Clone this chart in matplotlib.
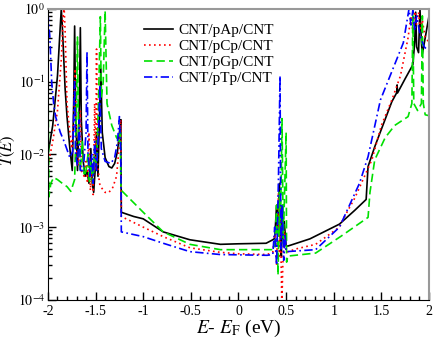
import numpy as np
import matplotlib
matplotlib.use("Agg")
from matplotlib import pyplot as plt
from matplotlib.ticker import MultipleLocator, LogLocator, NullFormatter, FixedLocator

plt.rcParams['font.family'] = ['Liberation Serif', 'DejaVu Serif']
plt.rcParams['mathtext.fontset'] = 'stix'

# values: (E - EF in eV, T(E))
pAp_E = [-2.00, -1.95, -1.90, -1.87, -1.86, -1.85, -1.82, -1.80, -1.77, -1.745, -1.73, -1.72, -1.71,
         -1.69, -1.67, -1.66, -1.65, -1.63, -1.61, -1.59, -1.57, -1.55, -1.535, -1.52, -1.505, -1.49,
         -1.475, -1.46, -1.445, -1.43, -1.40, -1.36, -1.33, -1.30, -1.27, -1.25, -1.235, -1.23,
         -1.10, -1.00, -0.79, -0.51, -0.19, 0.00, 0.29, 0.36, 0.38, 0.40, 0.41, 0.43, 0.44, 0.45,
         0.46, 0.47, 0.48, 0.50, 0.52, 0.75, 1.06, 1.22, 1.34, 1.36, 1.43, 1.61, 1.66, 1.665, 1.67,
         1.75, 1.83, 1.85, 1.86, 1.87, 1.89, 1.905, 1.92, 1.93, 1.96, 2.00]
pAp_T = [0.010, 0.025, 0.12, 0.6, 1.0, 0.6, 0.08, 0.033, 0.012, 0.006, 0.05, 0.58, 0.04,
         0.006, 0.05, 0.55, 0.03, 0.008, 0.005, 0.006, 0.004, 0.012, 0.004, 0.003, 0.006, 0.02,
         0.005, 0.03, 0.15, 0.02, 0.009, 0.0068, 0.0065, 0.0075, 0.011, 0.02, 0.03, 0.0016,
         0.0014, 0.0013, 0.00086, 0.00067, 0.00058, 0.00059, 0.0006, 0.00067, 0.0007, 0.002, 0.0008,
         0.004, 0.0006, 0.0004, 0.002, 0.0007, 0.0012, 0.00055, 0.00055, 0.00069, 0.0011, 0.0017,
         0.0024, 0.0068, 0.0127, 0.053, 0.07, 0.09, 0.07, 0.11, 0.17, 0.35, 0.9, 0.3, 0.25, 1.0,
         0.35, 0.24, 0.4, 0.8]

pCp_E = [-2.00, -1.95, -1.90, -1.86, -1.84, -1.83, -1.82, -1.80, -1.77, -1.75, -1.73, -1.715, -1.70,
         -1.68, -1.66, -1.65, -1.62, -1.60, -1.585, -1.57, -1.555, -1.54, -1.525, -1.51, -1.50, -1.49,
         -1.48, -1.46, -1.44, -1.40, -1.36, -1.32, -1.28, -1.26, -1.24, -1.235, -1.23,
         -1.00, -0.79, -0.51, -0.19, 0.00, 0.30, 0.36, 0.38, 0.40, 0.42, 0.43, 0.44, 0.455, 0.465,
         0.48, 0.50, 0.60, 0.81, 1.06, 1.10, 1.22, 1.27, 1.40, 1.50, 1.61, 1.70, 1.78, 1.81, 1.83,
         1.85, 1.87, 1.89, 1.91, 1.93, 1.96, 2.00]
pCp_T = [0.007, 0.015, 0.04, 0.2, 0.8, 1.0, 0.5, 0.05, 0.02, 0.012, 0.03, 0.15, 0.012,
         0.007, 0.04, 0.006, 0.005, 0.008, 0.004, 0.02, 0.0032, 0.006, 0.0028, 0.05, 0.006, 0.28,
         0.008, 0.004, 0.0035, 0.003, 0.003, 0.0035, 0.005, 0.01, 0.02, 0.03, 0.0014,
         0.001, 0.00074, 0.00052, 0.00045, 0.00043, 0.00042, 0.00045, 0.0008, 0.0003, 0.003, 0.0004,
         0.0015, 0.00008, 0.0003, 0.0009, 0.00045, 0.0005, 0.00058, 0.001, 0.0013, 0.0025, 0.0035,
         0.0084, 0.025, 0.056, 0.12, 0.4, 0.8, 0.5, 1.0, 0.6, 0.9, 0.5, 0.7, 0.4, 0.35]

pGp_E = [-2.00, -1.995, -1.99, -1.97, -1.94, -1.90, -1.85, -1.80, -1.76, -1.72, -1.70, -1.69, -1.68,
         -1.66, -1.64, -1.62, -1.60, -1.58, -1.565, -1.55, -1.53, -1.51, -1.49, -1.47, -1.45, -1.44,
         -1.42, -1.40, -1.38, -1.33, -1.28, -1.25, -1.24, -1.235, -1.23, -1.00, -0.79, -0.51, -0.19,
         0.00, 0.35, 0.38, 0.40, 0.415, 0.43, 0.44, 0.457, 0.47, 0.485, 0.50, 0.505, 0.52, 0.81,
         1.07, 1.36, 1.38, 1.43, 1.54, 1.64, 1.78, 1.82, 1.83, 1.84, 1.88, 1.92, 1.93, 1.94, 1.96, 2.00]
pGp_T = [0.1, 0.02, 0.0026, 0.004, 0.0048, 0.0045, 0.004, 0.0036, 0.0031, 0.0045, 0.05, 0.41, 0.02,
         0.006, 0.015, 0.005, 0.006, 0.01, 0.004, 0.008, 0.004, 0.012, 0.007, 0.05, 0.78, 0.06,
         0.1, 0.94, 0.05, 0.025, 0.017, 0.015, 0.02, 0.004, 0.0032, 0.0016, 0.00086, 0.00058, 0.00049,
         0.00049, 0.00049, 0.0005, 0.002, 0.00022, 0.003, 0.0008, 0.031, 0.0006, 0.0035, 0.02, 0.00033,
         0.0004, 0.00044, 0.00074, 0.00136, 0.003, 0.0084, 0.017, 0.025, 0.033, 0.05, 0.9, 0.05, 0.04,
         0.05, 0.8, 0.05, 0.035, 0.034]

pTp_E = [-2.00, -1.98, -1.96, -1.94, -1.92, -1.87, -1.83, -1.77, -1.74, -1.72, -1.71, -1.69, -1.67,
         -1.66, -1.63, -1.60, -1.59, -1.58, -1.56, -1.54, -1.525, -1.51, -1.49, -1.47, -1.455, -1.44,
         -1.40, -1.34, -1.30, -1.27, -1.25, -1.235, -1.23, -1.00, -0.79, -0.51, -0.19, 0.30, 0.36,
         0.38, 0.40, 0.42, 0.436, 0.445, 0.46, 0.475, 0.49, 0.50, 0.81, 1.06, 1.27, 1.36, 1.49, 1.73,
         1.79, 1.81, 1.83, 1.85, 1.87, 1.91, 1.95, 2.00]
pTp_T = [0.88, 0.4, 0.095, 0.05, 0.033, 0.02, 0.015, 0.009, 0.011, 0.1, 0.01, 0.007, 0.03,
         0.006, 0.006, 0.02, 0.26, 0.01, 0.005, 0.01, 0.004, 0.015, 0.006, 0.02, 0.09, 0.012,
         0.008, 0.0075, 0.009, 0.015, 0.033, 0.01, 0.00086, 0.00074, 0.0006, 0.00046, 0.00042, 0.00041,
         0.00042, 0.001, 0.0003, 0.005, 0.12, 0.0005, 0.002, 0.00035, 0.0008, 0.00046, 0.00049, 0.001,
         0.004, 0.0093, 0.056, 0.34, 1.0, 0.6, 0.95, 0.5, 0.8, 0.41, 0.3, 0.26]

labels = ['CNT/pAp/CNT', 'CNT/pCp/CNT', 'CNT/pGp/CNT', 'CNT/pTp/CNT']

fig = plt.figure(figsize=(4.36, 3.40), dpi=100)
ax = fig.add_axes([0.110, 0.118, 0.874, 0.856])

ax.plot(pAp_E, pAp_T, color='black', lw=1.2, ls='-', label=labels[0])
ax.plot(pCp_E, pCp_T, color='#ff0000', lw=1.2, ls=(0, (1, 2)), label=labels[1])
ax.plot(pGp_E, pGp_T, color='#00e000', lw=1.2, ls=(0, (5, 2.5)), label=labels[2])
ax.plot(pTp_E, pTp_T, color='#0000ff', lw=1.2, ls=(0, (5, 2, 1, 2)), label=labels[3])

ax.set_yscale('log')
ax.set_xlim(-2, 2)
ax.set_ylim(1e-4, 1)

ax.xaxis.set_minor_locator(MultipleLocator(0.1))
ax.set_xticks([-2, -1.5, -1, -0.5, 0, 0.5, 1, 1.5, 2])
ax.set_xticklabels(['-2', '-1.5', '-1', '-0.5', '0', '0.5', '1', '1.5', '2'])
ax.yaxis.set_major_locator(FixedLocator([1e-4, 1e-3, 1e-2, 1e-1, 1]))
ax.set_yticklabels([r'$10^{-4}$', r'$10^{-3}$', r'$10^{-2}$', r'$10^{-1}$', r'$10^{0}$'])
ax.yaxis.set_minor_locator(LogLocator(base=10, subs=np.arange(2, 10)))
ax.yaxis.set_minor_formatter(NullFormatter())

ax.tick_params(which='both', direction='in', top=False, right=False, labelsize=10)
ax.tick_params(which='major', length=6, width=1)
ax.tick_params(which='minor', length=3, width=1)
ax.tick_params(axis='y', pad=2)
for s in ['top', 'right']:
    ax.spines[s].set_color('#999999')
    ax.spines[s].set_linewidth(1.5)

ax.set_xlabel(r'$E$- $E_{\rm F}$ (eV)', fontsize=14, labelpad=0)
ax.set_ylabel(r'$T(E)$', fontsize=12)
ax.yaxis.set_label_coords(-0.082, 0.515)

ax.legend(loc='upper left', bbox_to_anchor=(0.235, 0.97), frameon=False, fontsize=11,
          handlelength=1.9, labelspacing=0.15, handletextpad=0.4, borderaxespad=0)

fig.savefig('out.png', dpi=100)
